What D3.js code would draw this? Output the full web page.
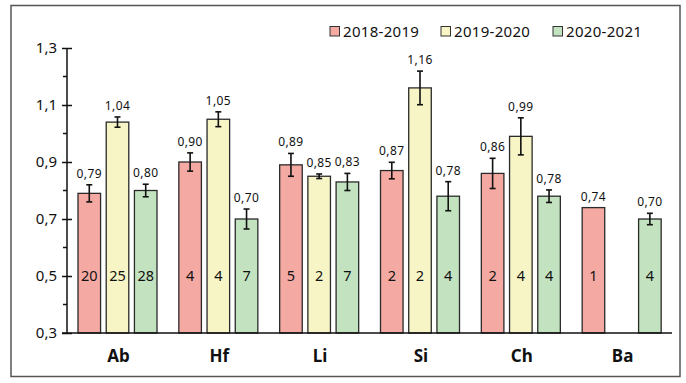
<!DOCTYPE html>
<html><head><meta charset="utf-8">
<script src="https://cdn.jsdelivr.net/npm/d3@7"></script>
<style>body{margin:0;background:#fff}svg{display:block}</style>
</head><body>
<svg id="c" width="686" height="383"></svg>
<script>
const categories = ["Ab","Hf","Li","Si","Ch","Ba"];
const seriesNames = ["2018-2019","2019-2020","2020-2021"];
const colors = ["#f4aaa3","#f7f5c6","#c3e2c0"];
const values2018 = [0.79,0.90,0.89,0.87,0.86,0.74];
const values2019 = [1.04,1.05,0.85,1.16,0.99,null];
const values2020 = [0.80,0.70,0.83,0.78,0.78,0.70];
const err2018 = [0.03,0.032,0.04,0.029,0.053,null];
const err2019 = [0.018,0.026,0.008,0.059,0.065,null];
const err2020 = [0.022,0.035,0.03,0.051,0.022,0.02];
const n2018 = ["20","4","5","2","2","1"];
const n2019 = ["25","4","2","2","4",null];
const n2020 = ["28","7","7","4","4","4"];
const yTicks = [0.3,0.5,0.7,0.9,1.1,1.3];
const yMinor = [0.4,0.6,0.8,1.0,1.2];

const vals=[values2018,values2019,values2020], errs=[err2018,err2019,err2020], ns=[n2018,n2019,n2020];
const font = "'Comic Sans MS','Noto Sans',sans-serif";
const svg = d3.select("#c");
svg.append("rect").attr("x",11).attr("y",5.5).attr("width",669).attr("height",371)
  .attr("fill","none").attr("stroke","#555").attr("stroke-width",1.5);

const y = d3.scaleLinear().domain([0.3,1.3]).range([333,48]);
const x0 = d3.scaleBand().domain(categories).range([67,672]);
const x1 = d3.scaleBand().domain(seriesNames).range([11,90]).paddingInner(0.2);
const fmt = v => d3.format(".2f")(v).replace(".",",");

// y axis
const yAxis = svg.append("g").attr("transform","translate(67,0)")
  .call(d3.axisLeft(y).tickValues(yTicks).tickSize(5).tickFormat(v=>d3.format(".1f")(v).replace(".",",")));
yAxis.select(".domain").attr("stroke","#111").attr("stroke-width",1.5).attr("d","M0,48V333");
yAxis.selectAll(".tick line").attr("x1",-5).attr("x2",5).attr("stroke","#111").attr("stroke-width",1.5);
yAxis.selectAll(".tick text").attr("x",-10).attr("font-family",font).attr("font-size",15).attr("fill","#111");
yAxis.selectAll(".minor").data(yMinor).enter().append("line")
  .attr("x1",-4).attr("x2",0).attr("y1",d=>y(d)).attr("y2",d=>y(d)).attr("stroke","#111").attr("stroke-width",1.5);

const groups = svg.selectAll(".grp").data(categories).enter().append("g")
  .attr("transform",d=>`translate(${x0(d)},0)`);
groups.each(function(cat,ci){
  const g = d3.select(this);
  seriesNames.forEach((s,si)=>{
    const v = vals[si][ci];
    if(v==null) return;
    const bx = x1(s), bw = x1.bandwidth();
    g.append("rect").attr("x",bx).attr("y",y(v)).attr("width",bw).attr("height",y(0.3)-y(v))
      .attr("fill",colors[si]).attr("stroke","#2a2a2a").attr("stroke-width",1.3);
    const e = errs[si][ci];
    const cx = bx+bw/2;
    let top = y(v);
    if(e!=null){
      top = y(v+e);
      g.append("line").attr("x1",cx).attr("x2",cx).attr("y1",y(v+e)).attr("y2",y(v-e)).attr("stroke","#111").attr("stroke-width",1.6);
      [v+e,v-e].forEach(t=>g.append("line").attr("x1",cx-3).attr("x2",cx+3).attr("y1",y(t)).attr("y2",y(t)).attr("stroke","#111").attr("stroke-width",1.6));
    }
    g.append("text").attr("x",cx).attr("y",top-7).attr("text-anchor","middle")
      .attr("font-family",font).attr("font-size",12).attr("letter-spacing",0.4).attr("fill","#111").text(fmt(v));
    const n = ns[si][ci];
    if(n!=null) g.append("text").attr("x",cx).attr("y",y(0.5)).attr("dy","0.35em").attr("text-anchor","middle")
      .attr("font-family",font).attr("font-size",14.5).attr("fill","#111").text(n);
  });
});

// x axis baseline
svg.append("line").attr("x1",62).attr("x2",672).attr("y1",333).attr("y2",333).attr("stroke","#111").attr("stroke-width",1.5);
svg.selectAll(".cl").data(categories).enter().append("text")
  .attr("x",d=>x0(d)+x0.bandwidth()/2+1).attr("y",362).attr("text-anchor","middle")
  .attr("font-family",font).attr("font-size",17).attr("font-weight","bold").attr("fill","#111").text(d=>d);

// legend
const legX = [330,441,553];
seriesNames.forEach((s,i)=>{
  svg.append("rect").attr("x",legX[i]).attr("y",26.5).attr("width",9.5).attr("height",9.5)
    .attr("fill",colors[i]).attr("stroke","#333").attr("stroke-width",1);
  svg.append("text").attr("x",legX[i]+13).attr("y",37).attr("font-family",font).attr("font-size",15)
    .attr("letter-spacing",0.3).attr("fill","#111").text(s);
});
</script>
</body></html>
